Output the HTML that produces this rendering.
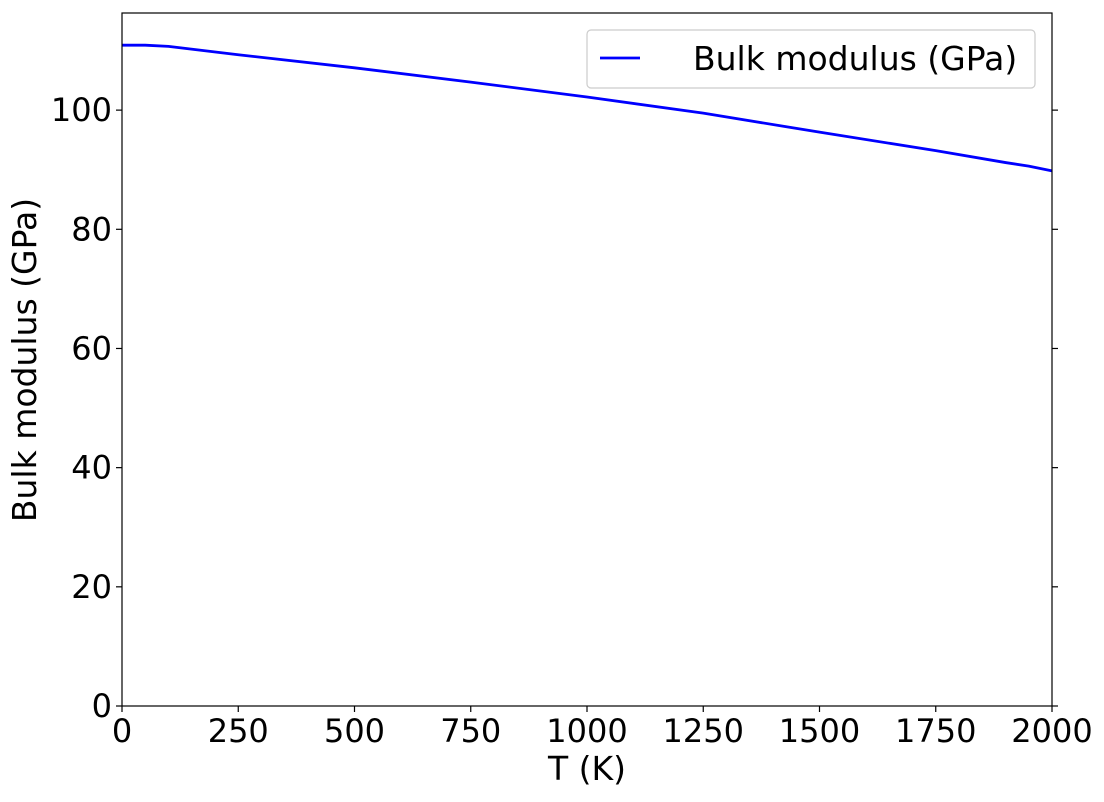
<!DOCTYPE html>
<html><head><meta charset="utf-8"><style>
body{margin:0;background:#fff;}
svg text{font-family:"DejaVu Sans","Liberation Sans",sans-serif;fill:#000;}
</style></head><body>
<svg width="1104" height="797" xmlns="http://www.w3.org/2000/svg">
<g id="plot"></g>
</svg>
<script>
const temps=[0,50,100,250,500,750,1000,1250,1500,1750,1900,1950,2000];
const bulk=[110.9,110.9,110.7,109.3,107.1,104.7,102.2,99.5,96.3,93.2,91.2,90.6,89.8];
const xTicks=[0,250,500,750,1000,1250,1500,1750,2000];
const yTicks=[0,20,40,60,80,100];
const L=122,R=1052,T=13,B=706,xMax=2000,yMax=116.3;
const sx=v=>L+v/xMax*(R-L), sy=v=>B-v/yMax*(B-T);
const g=document.getElementById('plot');const NS='http://www.w3.org/2000/svg';
function mk(t,a,txt){const e=document.createElementNS(NS,t);for(const k in a)e.setAttribute(k,a[k]);if(txt!=null)e.textContent=txt;g.appendChild(e);return e;}
let d=temps.map((t,i)=>(i?'L':'M')+sx(t).toFixed(2)+','+sy(bulk[i]).toFixed(2)).join(' ');
const line=mk('path',{d:d,fill:'none',stroke:'#0000ff','stroke-width':2.8});


const frame=mk('rect',{x:L,y:T,width:R-L,height:B-T,fill:'none',stroke:'#000','stroke-width':1.2});


xTicks.forEach(v=>{
 mk('line',{x1:sx(v),x2:sx(v),y1:B,y2:B+6,stroke:'#000','stroke-width':1.2});
 const t=mk('text',{x:sx(v),y:B+36,'font-size':32,'text-anchor':'middle'},v);
 
 
});
yTicks.forEach(v=>{
 mk('line',{x1:L-6,x2:L,y1:sy(v),y2:sy(v),stroke:'#000','stroke-width':1.2});
 mk('line',{x1:R,x2:R+6,y1:sy(v),y2:sy(v),stroke:'#000','stroke-width':1.2});
 const t=mk('text',{x:L-10,y:sy(v)+11,'font-size':32,'text-anchor':'end'},v);
 
 
});
const xt=mk('text',{x:(L+R)/2,y:780,'font-size':33,'text-anchor':'middle'},'T (K)');


const yt=mk('text',{x:0,y:0,'font-size':33,'text-anchor':'middle',transform:'translate(36,360) rotate(-90)'},'Bulk modulus (GPa)');


const lb=mk('rect',{x:587,y:30,width:448,height:58,rx:4,fill:'#fff',stroke:'#ccc','stroke-width':1.2});


mk('line',{x1:600,x2:640,y1:58,y2:58,stroke:'#0000ff','stroke-width':2.8});
const lt=mk('text',{x:693,y:70,'font-size':33},'Bulk modulus (GPa)');


</script>
</body></html>
